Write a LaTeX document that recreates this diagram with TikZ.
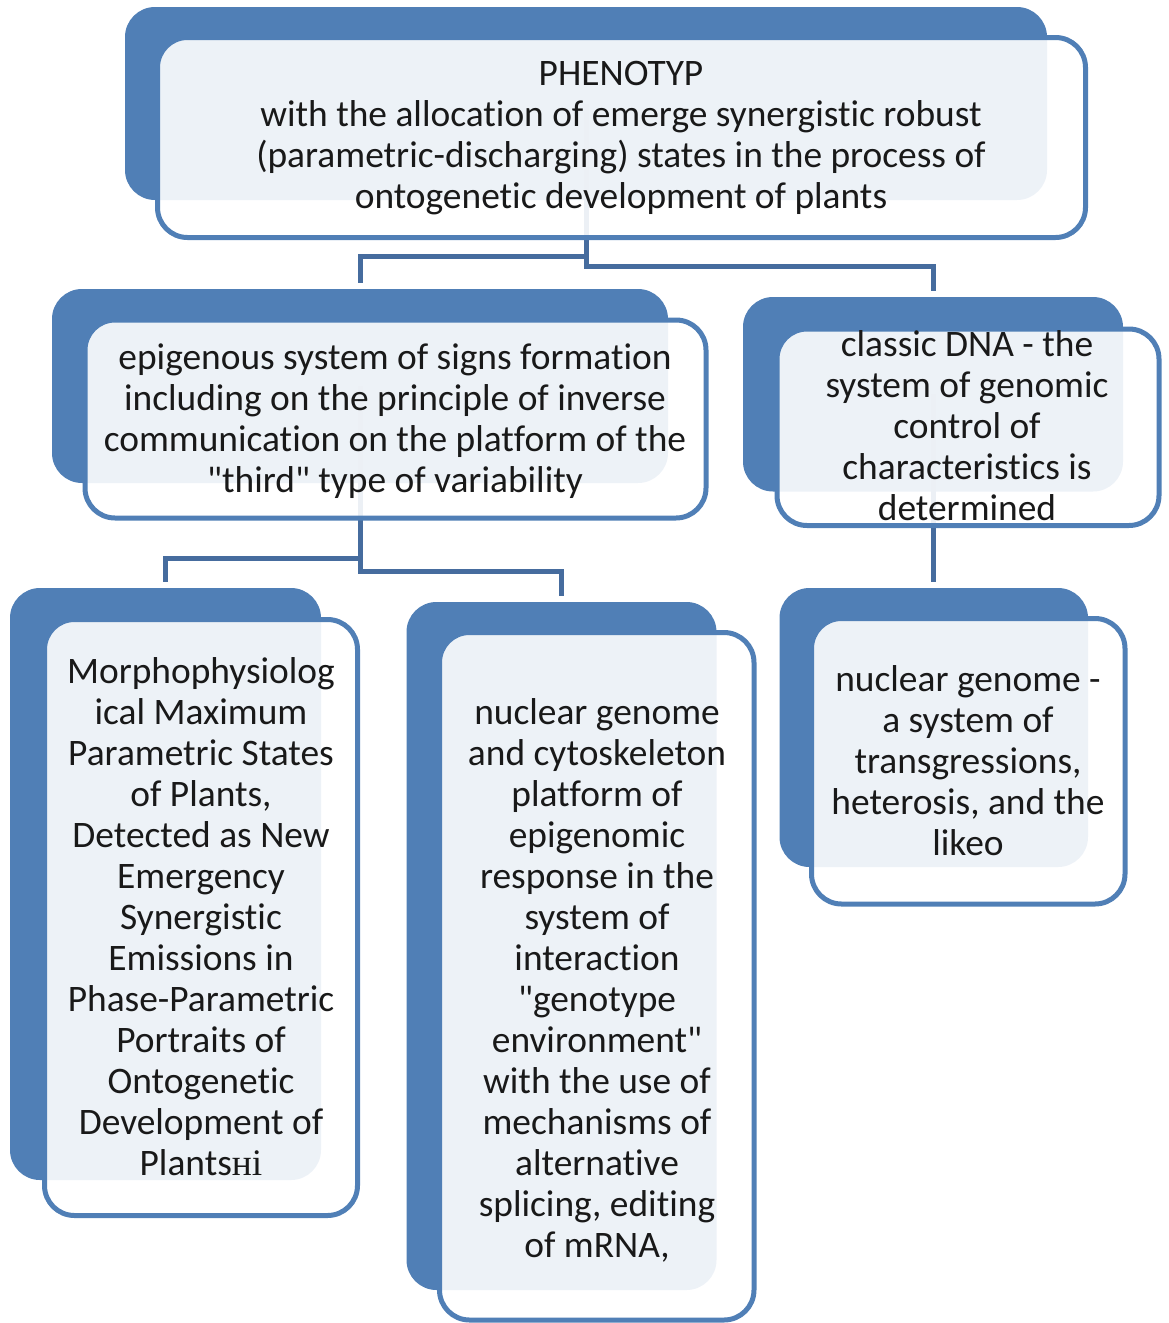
\documentclass[tikz,border=0pt]{standalone}
\usepackage{fontspec}
\setmainfont{Carlito}[Ligatures={TeXOff,NoCommon}]
\newfontfamily\serifcyr{Liberation Serif}
\definecolor{bk}{RGB}{80,127,182}
\definecolor{cn}{RGB}{70,108,158}
\definecolor{tx}{RGB}{25,25,25}
\begin{document}
\begin{tikzpicture}[x=1pt,y=-1pt,
  back/.style={fill=bk, rounded corners=30pt, inner sep=0pt, outer sep=0pt, anchor=north west},
  front/.style={draw=bk, line width=5pt, fill=white, fill opacity=0.9, rounded corners=30pt, inner sep=0pt, outer sep=0pt, anchor=north west},
  lbl/.style={font=\fontsize{37.4}{41}\selectfont, align=center, inner sep=0pt, text=tx},
  conn/.style={draw=cn, line width=5pt, shorten >=6pt}]
\useasboundingbox (0,0) rectangle (1169,1323);
% back boxes
\node[back, minimum width=922pt, minimum height=193pt] (b1) at (125,7) {};
\node[back, minimum width=616pt, minimum height=194pt] (b2) at (52,289) {};
\node[back, minimum width=380pt, minimum height=194.5pt] (b3) at (743,297) {};
\node[back, minimum width=311pt, minimum height=592pt] (b4) at (10,588) {};
\node[back, minimum width=310pt, minimum height=688pt] (b5) at (406.5,602) {};
\node[back, minimum width=308.5pt, minimum height=279pt] (b6) at (779.5,588) {};
% connectors
\draw[conn] (b1.center) -- (b1.center |- 0,256) -| (b2.north);
\draw[conn] (b1.center) -- (b1.center |- 0,266) -| (b3.north);
\draw[conn] (b2.center) -- (b2.center |- 0,558) -| (b4.north);
\draw[conn] (b2.center) -- (b2.center |- 0,571.5) -| (b5.north);
\draw[conn] (b3.center) -- (b3.center |- b6.north);
% front boxes
\node[front, minimum width=928pt, minimum height=200pt] (f1) at (157.5,37.5) {};
\node[front, minimum width=621pt, minimum height=198pt] (f2) at (85,320) {};
\node[front, minimum width=382pt, minimum height=196.5pt] (f3) at (777,329) {};
\node[front, minimum width=313pt, minimum height=596pt] (f4) at (44.5,619.5) {};
\node[front, minimum width=314.5pt, minimum height=687.5pt] (f5) at (439.5,632.5) {};
\node[front, minimum width=313.5pt, minimum height=285.5pt] (f6) at (811.5,618.5) {};
% texts
\node[lbl] (t1) at (621,139) {\strut PHENOTYP\\with the allocation of emerge synergistic robust\\(parametric-discharging) states in the process of\\ontogenetic development of plants\strut};
\node[lbl] (t2) at (395,422.3) {\strut epigenous system of signs formation\\including on the principle of inverse\\communication on the platform of the\\"third" type of variability\strut};
\node[lbl] (t3) at (967,430) {\strut classic DNA - the\\system of genomic\\control of\\characteristics is\\determined\strut};
\node[lbl] (t4) at (201,920.8) {\strut Morphophysiolog\\ical Maximum\\Parametric States\\of Plants,\\Detected as New\\Emergency\\Synergistic\\Emissions in\\Phase-Parametric\\Portraits of\\Ontogenetic\\Development of\\Plants{\serifcyr ні}\strut};
\node[lbl] (t5) at (597,982.3) {\strut nuclear genome\\and cytoskeleton\\platform of\\epigenomic\\response in the\\system of\\interaction\\"genotype\\environment"\\with the use of\\mechanisms of\\alternative\\splicing, editing\\of mRNA,\strut};
\node[lbl] (t6) at (968,764.8) {\strut nuclear genome -\\a system of\\transgressions,\\heterosis, and the\\likeo\strut};
\end{tikzpicture}
\end{document}
